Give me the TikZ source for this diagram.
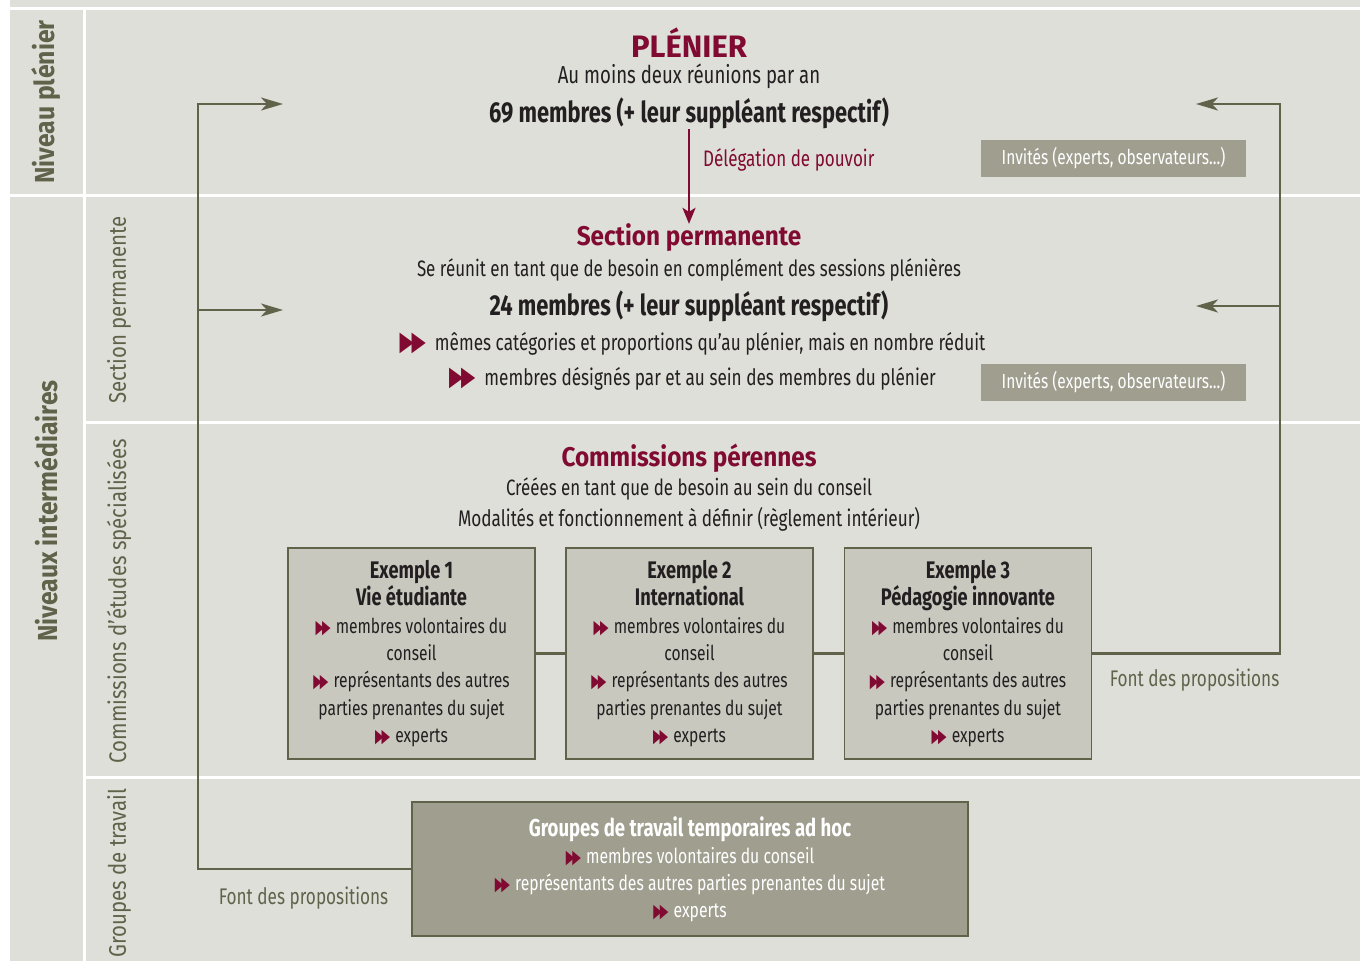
\documentclass[tikz,border=0pt]{standalone}
\usepackage{fontspec}
\setmainfont{Fira Sans}[FakeStretch=0.76]
\newfontfamily\titrefont{Fira Sans}[FakeStretch=0.9]
\newfontfamily\capsfont{Fira Sans}[FakeStretch=1.0]
\newfontfamily\rubfont{Fira Sans}[FakeStretch=0.85]
\newfontfamily\symfont{DejaVu Sans}
\usetikzlibrary{arrows.meta,positioning}
\definecolor{fond}{RGB}{222,223,217}
\definecolor{crim}{RGB}{128,10,50}
\definecolor{olive}{RGB}{96,99,74}
\definecolor{boite}{RGB}{201,200,191}
\definecolor{boitefonce}{RGB}{160,158,143}
\definecolor{noir}{RGB}{35,31,32}
\newcommand{\puce}{{\color{crim}\symfont\scalebox{0.54}[0.92]{▶}\kern-0.1em\scalebox{0.54}[0.92]{▶}}\kern0.25em}
\newcommand{\grandepuce}{{\color{crim}\symfont\scalebox{0.82}[1.2]{▶}\kern-0.1em\scalebox{0.82}[1.2]{▶}}\kern0.4em}
\tikzstyle{fleche} = [line width=2.6pt,-{Stealth[length=22pt,width=13pt,inset=6pt]},color=olive]

\begin{document}
\begin{tikzpicture}[x=1pt,y=-1pt,
    bande/.style={fill=fond},
    niveau/.style={rotate=90, text=olive, font=\titrefont\fontsize{27.5}{30}\selectfont\bfseries, inner sep=0pt},
    rubrique/.style={rotate=90, text=olive, font=\rubfont\fontsize{24}{28}\selectfont, inner sep=0pt},
    titre/.style={text=crim, font=\titrefont\fontsize{27}{31}\selectfont\bfseries, inner sep=0pt},
    corps/.style={text=noir, font=\fontsize{23}{27}\selectfont, inner sep=0pt},
    effectif/.style={text=noir, font=\fontsize{28.8}{32}\selectfont\bfseries, inner sep=0pt},
    invite/.style={fill=boitefonce, text=white, minimum width=265pt, minimum height=37pt, inner sep=0pt, font=\fontsize{20.4}{24}\selectfont},
    exemple/.style={draw=olive, line width=1.5pt, fill=boite, text=noir, minimum width=247pt, minimum height=211pt, inner sep=0pt, align=center, font=\fontsize{20.5}{27.3}\selectfont},
    groupe/.style={draw=olive, line width=1.5pt, fill=boitefonce, text=white, minimum width=556pt, minimum height=134pt, inner sep=0pt, align=center, font=\fontsize{20.7}{27}\selectfont},
    propos/.style={text=olive, font=\fontsize{22.6}{26}\selectfont, inner sep=0pt},
    lien/.style={line width=2.6pt, olive},
    deleg/.style={line width=2.6pt, crim, -{Stealth[length=16pt,width=13pt,inset=4pt]}}]
\useasboundingbox (0,0) rectangle (1360,961);
\fill[white] (0,0) rectangle (1360,961);

% bands
\fill[bande] (10,0) rectangle (1360,7);
\fill[bande] (10,10) rectangle (83,194);
\fill[bande] (10,197) rectangle (83,961);
\fill[bande] (86,10) rectangle (1360,194);
\fill[bande] (86,197) rectangle (1360,421);
\fill[bande] (86,424) rectangle (1360,776);
\fill[bande] (86,779) rectangle (1360,961);

% level labels
\node[niveau] (nplen) at (46,102) {Niveau plénier};
\node[niveau] (ninter) at (46,511) {Niveaux intermédiaires};
\node[rubrique] (rsect) at (119,310) {Section permanente};
\node[rubrique] (rcomm) at (119,601) {Commissions d’études spécialisées};
\node[rubrique] (rgrp) at (119,873) {Groupes de travail};

% plenier
\node[titre, font=\capsfont\fontsize{31}{34}\selectfont\bfseries] (plenier) at (689,43) {PLÉNIER};
\node[corps, font=\fontsize{24.5}{28}\selectfont] (reunions) at (689,76) {Au moins deux réunions par an};
\node[effectif] (m69) at (689,113) {69 membres (+ leur suppléant respectif)};
\node[corps, text=crim, anchor=west, font=\fontsize{22.4}{26}\selectfont] (delegation) at (703,160) {Délégation de pouvoir};
\node[invite] (inv1) at (1113.5,158.5) {Invités (experts, observateurs...)};

% section permanente
\node[titre] (sptitre) at (689,238) {Section permanente};
\node[corps, font=\fontsize{22.3}{26}\selectfont] (sreunit) at (689,270) {Se réunit en tant que de besoin en complément des sessions plénières};
\node[effectif] (m24) at (689,306) {24 membres (+ leur suppléant respectif)};
\node[corps, font=\fontsize{22.6}{26}\selectfont] (categ) at (692.5,344) {\grandepuce mêmes catégories et proportions qu’au plénier, mais en nombre réduit};
\node[corps, font=\fontsize{22.6}{26}\selectfont] (design) at (692.5,379) {\grandepuce membres désignés par et au sein des membres du plénier};
\node[invite] (inv2) at (1113.5,382.5) {Invités (experts, observateurs...)};

% commissions
\node[titre] (comtitre) at (689,458) {Commissions pérennes};
\node[corps, font=\fontsize{22.2}{26}\selectfont] (creees) at (689,489) {Créées en tant que de besoin au sein du conseil};
\node[corps, font=\fontsize{22.6}{26}\selectfont] (modal) at (689,519) {Modalités et fonctionnement à définir (règlement intérieur)};

\node[exemple] (ex1) at (411.5,653.5) {{\fontsize{24}{27.3}\selectfont\bfseries Exemple 1}\\{\fontsize{24}{27.3}\selectfont\bfseries Vie étudiante}\\\puce membres volontaires du\\conseil\\\puce représentants des autres\\parties prenantes du sujet\\\puce experts};
\node[exemple] (ex2) at (689.5,653.5) {{\fontsize{24}{27.3}\selectfont\bfseries Exemple 2}\\{\fontsize{24}{27.3}\selectfont\bfseries International}\\\puce membres volontaires du\\conseil\\\puce représentants des autres\\parties prenantes du sujet\\\puce experts};
\node[exemple] (ex3) at (968,653.5) {{\fontsize{24}{27.3}\selectfont\bfseries Exemple 3}\\{\fontsize{24}{27.3}\selectfont\bfseries Pédagogie innovante}\\\puce membres volontaires du\\conseil\\\puce représentants des autres\\parties prenantes du sujet\\\puce experts};

% groupes de travail
\node[groupe] (groupes) at (690,869) {{\fontsize{24.4}{27}\selectfont\bfseries Groupes de travail temporaires ad hoc}\\\puce membres volontaires du conseil\\\puce représentants des autres parties prenantes du sujet\\\puce experts};

\node[propos] (propd) at (1194.5,680) {Font des propositions};
\node[propos] (propg) at (303.5,898) {Font des propositions};

% feedback lines
\coordinate (gA) at (283,104);
\coordinate (gB) at (283,310);
\coordinate (gC) at (198,310);
\coordinate (dA) at (1196,104);
\coordinate (dB) at (1196,306);
\coordinate (dC) at (1280,306);

\draw[lien] (ex1) -- (ex2);
\draw[lien] (ex2) -- (ex3);
\draw[fleche] (groupes.west) -| (gC) |- (gA);
\draw[fleche] (gC) -- (gB);
\draw[fleche] (ex3.east) -| (dC) |- (dA);
\draw[fleche] (dC) -- (dB);
\draw[deleg] (m69.south) -- (sptitre.north);
\end{tikzpicture}
\end{document}
